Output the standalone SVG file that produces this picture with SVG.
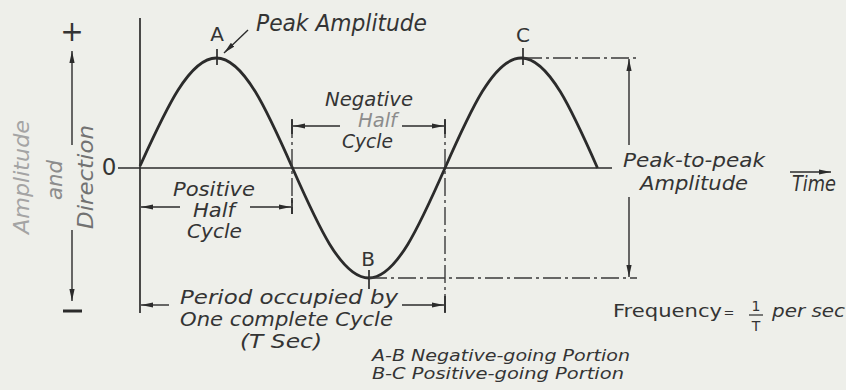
<svg xmlns="http://www.w3.org/2000/svg" width="846" height="390" viewBox="0 0 846 390">
<defs>
<marker id="ah" viewBox="0 0 12 6" refX="12" refY="3" markerWidth="12" markerHeight="6" markerUnits="userSpaceOnUse" orient="auto"><path d="M0,0.4 L12,3 L0,5.6 z" fill="#2b2b2b"/></marker>
<style>
.ln{stroke:#2b2b2b;stroke-width:1.7;fill:none}
.dd{stroke:#3a3a3a;stroke-width:1.4;fill:none;stroke-dasharray:18 4 3 4}
.ar{stroke:#2b2b2b;stroke-width:1.4;fill:none;marker-end:url(#ah)}
.t{font-family:"DejaVu Sans","Liberation Sans",sans-serif;font-style:italic;fill:#343434;font-size:22px}
.s{font-size:19px}
.u{font-family:"DejaVu Sans","Liberation Sans",sans-serif;fill:#343434;font-size:20px}
</style>
</defs>
<rect width="846" height="390" fill="#eeefea"/>

<g id="axes">
<line class="ln" x1="140" y1="18" x2="140" y2="313"/>
<line class="ln" x1="118" y1="168" x2="612" y2="168"/>
<text class="u" x="109" y="175" style="font-size:23px" text-anchor="middle">0</text>
</g>

<g id="wave">
<path class="ln" style="stroke-width:2.8" d="M140,166 C164.9,111.6 188.7,58 216.3,58 C243.8,58 267.6,111.6 292.5,168 C317.4,224.4 341.2,278 368.8,278 C396.3,278 420.1,224.4 445,168 C469.9,111.6 493.7,58 521.3,58 C548.8,58 572.6,111.6 597.5,168"/>
<line class="ln" x1="217" y1="49" x2="217" y2="65"/>
<line class="ln" x1="523" y1="48" x2="523" y2="65"/>
<line class="ln" x1="369" y1="270" x2="369" y2="289"/>
<text class="u" x="217" y="41" text-anchor="middle">A</text>
<text class="u" x="523" y="42" text-anchor="middle">C</text>
<text class="u" x="368" y="266" text-anchor="middle">B</text>
</g>

<g id="y-label">
<text class="u" x="72" y="41" style="font-size:28px" text-anchor="middle">+</text>
<line class="ln" style="stroke-width:3" x1="63" y1="311" x2="82" y2="311"/>
<text class="t" transform="translate(29,177) rotate(-90)" text-anchor="middle" style="fill:#a4a4a4;font-size:21px" textLength="114" lengthAdjust="spacingAndGlyphs">Amplitude</text>
<text class="t" transform="translate(62,180) rotate(-90)" text-anchor="middle" style="fill:#8c8c8c;font-size:21px" textLength="40" lengthAdjust="spacingAndGlyphs">and</text>
<text class="t" transform="translate(93,177) rotate(-90)" text-anchor="middle" style="fill:#727272;font-size:21px" textLength="104" lengthAdjust="spacingAndGlyphs">Direction</text>
</g>

<g id="connectors">
<line class="ar" x1="72" y1="145" x2="72" y2="51"/>
<line class="ar" x1="72" y1="230" x2="72" y2="301"/>
<line class="ar" x1="248" y1="30" x2="224" y2="53"/>
<line class="dd" x1="292" y1="120" x2="292" y2="214"/>
<line class="dd" x1="445" y1="120" x2="445" y2="313"/>
<line class="ln" x1="292" y1="198" x2="292" y2="214"/>
<line class="ln" x1="292" y1="119" x2="292" y2="134"/>
<line class="ln" x1="445" y1="119" x2="445" y2="134"/>
<line class="ln" x1="445" y1="296" x2="445" y2="313"/>
<line class="ar" x1="180" y1="207" x2="141" y2="207"/>
<line class="ar" x1="250" y1="207" x2="291" y2="207"/>
<line class="ar" x1="340" y1="126" x2="293" y2="126"/>
<line class="ar" x1="402" y1="126" x2="444" y2="126"/>
<line class="ar" x1="169" y1="305" x2="141" y2="305"/>
<line class="ar" x1="402" y1="305" x2="444" y2="305"/>
<line class="dd" x1="524" y1="58" x2="637" y2="58"/>
<line class="dd" x1="369" y1="278" x2="637" y2="278"/>
<line class="ar" x1="629" y1="145" x2="629" y2="59"/>
<line class="ar" x1="629" y1="197" x2="629" y2="277"/>
<line class="ar" x1="790" y1="172" x2="831" y2="172"/>
</g>

<g id="labels">
<text class="t" x="256" y="31" style="font-size:23px" textLength="171" lengthAdjust="spacingAndGlyphs">Peak Amplitude</text>
<text class="t s" x="173" y="196" textLength="82" lengthAdjust="spacingAndGlyphs">Positive</text>
<text class="t s" x="193" y="217" textLength="42" lengthAdjust="spacingAndGlyphs">Half</text>
<text class="t s" x="187" y="238" textLength="55" lengthAdjust="spacingAndGlyphs">Cycle</text>
<text class="t s" x="325" y="106" textLength="88" lengthAdjust="spacingAndGlyphs">Negative</text>
<text class="t s" x="358" y="127" style="fill:#8c8c8c" textLength="39" lengthAdjust="spacingAndGlyphs">Half</text>
<text class="t s" x="342" y="148" textLength="51" lengthAdjust="spacingAndGlyphs">Cycle</text>
<text class="t" x="623" y="167" style="font-size:20px" textLength="142" lengthAdjust="spacingAndGlyphs">Peak-to-peak</text>
<text class="t" x="640" y="190" style="font-size:20px" textLength="108" lengthAdjust="spacingAndGlyphs">Amplitude</text>
<text class="t" x="792" y="191" textLength="44" lengthAdjust="spacingAndGlyphs">Time</text>
<text class="t" x="180" y="304" style="font-size:19px" textLength="218" lengthAdjust="spacingAndGlyphs">Period occupied by</text>
<text class="t" x="180" y="326" style="font-size:19px" textLength="213" lengthAdjust="spacingAndGlyphs">One complete Cycle</text>
<text class="t" x="240" y="348" style="font-size:19px" textLength="82" lengthAdjust="spacingAndGlyphs">(T Sec)</text>
<text class="t" x="372" y="361" style="font-size:16px" textLength="258" lengthAdjust="spacingAndGlyphs">A-B Negative-going Portion</text>
<text class="t" x="372" y="379" style="font-size:16px" textLength="252" lengthAdjust="spacingAndGlyphs">B-C Positive-going Portion</text>
</g>

<g id="frequency">
<text class="u" x="613" y="317" style="font-size:18px" textLength="109" lengthAdjust="spacingAndGlyphs">Frequency</text>
<text class="u" x="729" y="317" style="font-size:13px" text-anchor="middle">=</text>
<text class="u" x="756" y="311" style="font-size:14px" text-anchor="middle">1</text>
<line class="ln" style="stroke-width:1.2" x1="749" y1="315" x2="763" y2="315"/>
<text class="u" x="756" y="331" style="font-size:14px" text-anchor="middle">T</text>
<text class="t" x="772" y="317" style="font-size:18px" textLength="73" lengthAdjust="spacingAndGlyphs">per sec</text>
</g>
</svg>
